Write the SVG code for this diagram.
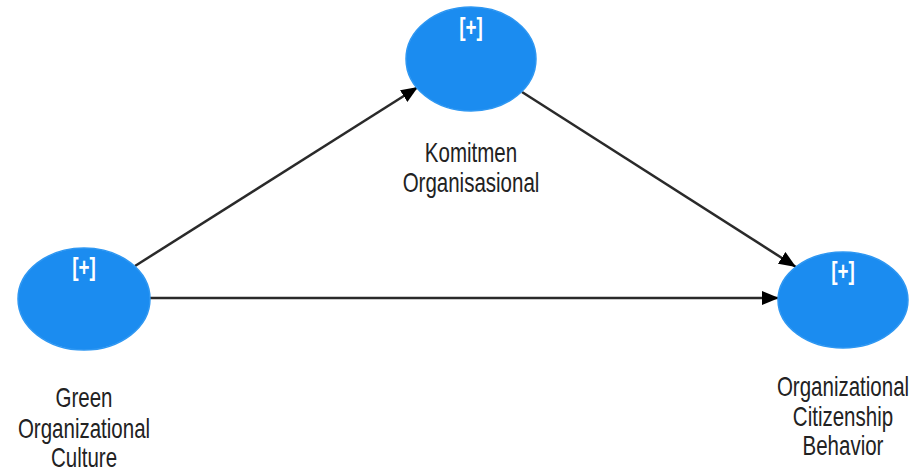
<svg xmlns="http://www.w3.org/2000/svg" width="916" height="475" viewBox="0 0 916 475">
<style>
.node{fill:#1B8CF0;stroke:#2E97F2;stroke-width:1.5}
.plus{font-family:"Liberation Sans",Arial,sans-serif;font-size:23px;font-weight:bold;fill:#fff;text-anchor:middle}
.lbl{font-family:"Liberation Sans",Arial,sans-serif;font-size:25px;fill:#222;text-anchor:middle}
.edge{stroke:#2a2a2a;stroke-width:2.5;fill:none}
</style>
<defs>
<marker id="arr" markerUnits="userSpaceOnUse" markerWidth="18" markerHeight="14" refX="17" refY="7" orient="auto">
<path d="M0,0 L17,7 L0,14 z" fill="#000"/>
</marker>
</defs>
<rect width="916" height="475" fill="#fff"/>
<g id="connectors">
<line class="edge" x1="135" y1="266" x2="418" y2="87" marker-end="url(#arr)"/>
<line class="edge" x1="522" y1="92" x2="796" y2="267" marker-end="url(#arr)"/>
<line class="edge" x1="150" y1="298" x2="779" y2="298" stroke="#444" stroke-width="3" marker-end="url(#arr)"/>
</g>
<g id="komitmen">
<ellipse class="node" cx="471" cy="59" rx="65" ry="52"/>
<g transform="translate(471,0) scale(0.82,1.1)">
<text class="plus" x="0" y="33">[+]</text>
<text class="lbl" x="0" y="147">Komitmen</text>
<text class="lbl" x="0" y="175">Organisasional</text>
</g>
</g>
<g id="goc">
<ellipse class="node" cx="84" cy="299" rx="66" ry="51"/>
<g transform="translate(84,0) scale(0.82,1.1)">
<text class="plus" x="0" y="251">[+]</text>
<text class="lbl" x="0" y="370">Green</text>
<text class="lbl" x="0" y="398">Organizational</text>
<text class="lbl" x="0" y="425">Culture</text>
</g>
</g>
<g id="ocb">
<ellipse class="node" cx="843" cy="300" rx="65" ry="48"/>
<g transform="translate(843,0) scale(0.82,1.1)">
<text class="plus" x="0" y="255">[+]</text>
<text class="lbl" x="0" y="360">Organizational</text>
<text class="lbl" x="0" y="387">Citizenship</text>
<text class="lbl" x="0" y="414">Behavior</text>
</g>
</g>
</svg>
